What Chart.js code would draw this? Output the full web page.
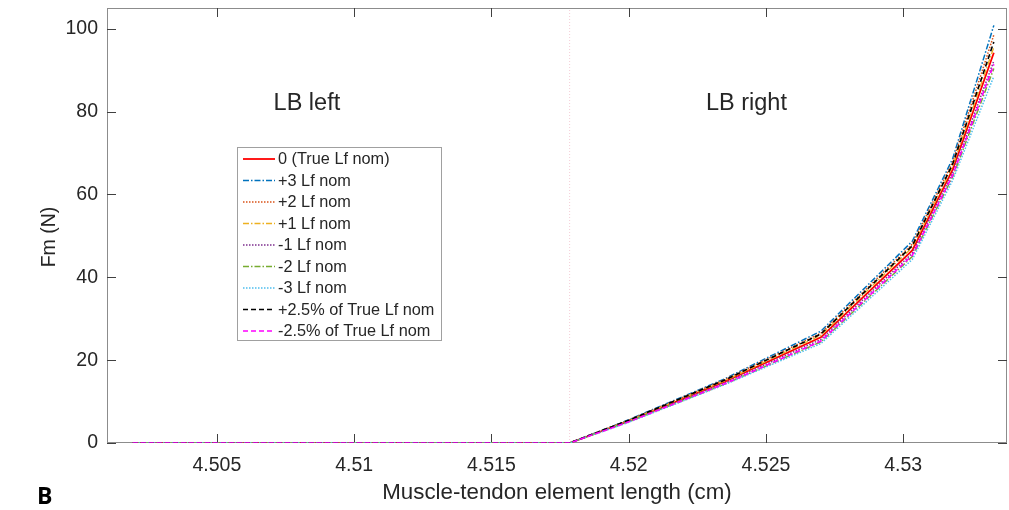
<!DOCTYPE html>
<html>
<head>
<meta charset="utf-8">
<script src="https://cdn.jsdelivr.net/npm/chart.js@4.4.1/dist/chart.umd.min.js"></script>
<style>
    html, body { margin: 0; padding: 0; background: #fff; }
    #wrap { width: 1009px; height: 510px; position: relative; }
</style>
</head>
<body>
<div id="wrap"><canvas id="fmChart" width="1009" height="510"></canvas></div>
<script>
// Fm vs muscle-tendon length, LB model
const xValues = [4.50194, 4.51785, 4.52, 4.5235, 4.527, 4.53033, 4.5318, 4.5333]

const fmTrue   = [0, 0, 5.3, 14.8, 25.5, 46.5, 66.0, 94.2]
const fmPlus3  = [0, 0, 5.6, 15.5, 27.0, 48.7, 68.6, 100.8]
const fmPlus2  = [0, 0, 5.5, 15.3, 26.5, 48.0, 67.8, 98.5]
const fmPlus1  = [0, 0, 5.4, 15.0, 26.0, 47.2, 66.8, 95.5]
const fmMinus1 = [0, 0, 5.2, 14.5, 25.0, 45.8, 65.2, 92.2]
const fmMinus2 = [0, 0, 5.1, 14.2, 24.4, 45.0, 64.2, 90.4]
const fmMinus3 = [0, 0, 5.0, 14.1, 24.0, 44.3, 63.4, 88.5]
const fmPlusPct  = [0, 0, 5.5, 15.2, 26.3, 47.6, 67.3, 96.8]
const fmMinusPct = [0, 0, 5.1, 14.3, 24.6, 45.3, 64.6, 91.4]

const seriesLabels = ["0 (True Lf nom)", "+3 Lf nom", "+2 Lf nom", "+1 Lf nom", "-1 Lf nom",
    "-2 Lf nom", "-3 Lf nom", "+2.5% of True Lf nom", "-2.5% of True Lf nom"]

const xTicks = [4.505, 4.51, 4.515, 4.52, 4.525, 4.53]
const yTicks = [0, 20, 40, 60, 80, 100]

const lbBoundary = 4.51785
const regionLabels = [
    { text: "LB left", x: 4.50828, y: 82 },
    { text: "LB right", x: 4.52429, y: 82 },
]

const FONT = "'Liberation Sans', Arial, sans-serif"
const TXT = "#262626"

const styles = [
    { color: "#ff0000", dash: [], width: 1.8 },
    { color: "#0072bd", dash: [6, 2, 1.5, 2], width: 1.5 },
    { color: "#d95319", dash: [1.5, 1.5], width: 1.5 },
    { color: "#edb120", dash: [6, 2, 1.5, 2], width: 1.3 },
    { color: "#7e2f8e", dash: [1.5, 1.5], width: 1.5 },
    { color: "#77ac30", dash: [6, 2, 1.5, 2], width: 1.5 },
    { color: "#4dbeee", dash: [1.5, 1.5], width: 1.5 },
    { color: "#000000", dash: [5, 3], width: 1.6 },
    { color: "#ff00ff", dash: [5, 3], width: 1.6 },
]

const seriesValues = [fmTrue, fmPlus3, fmPlus2, fmPlus1, fmMinus1, fmMinus2, fmMinus3, fmPlusPct, fmMinusPct]

const datasets = seriesValues.map((vals, i) => ({
    label: seriesLabels[i],
    data: xValues.map((x, j) => ({ x: x, y: vals[j] })),
    borderColor: styles[i].color,
    borderDash: styles[i].dash,
    borderWidth: styles[i].width,
    pointRadius: 0,
    tension: 0,
    fill: false,
    order: 20 - i,
}))

// dotted boundary line between LB left / right
datasets.push({
    label: "boundary",
    data: [{ x: lbBoundary, y: 0 }, { x: lbBoundary, y: 105 }],
    borderColor: "rgba(235, 170, 185, 0.6)",
    borderDash: [1, 2],
    borderWidth: 1,
    pointRadius: 0,
    order: 30,
})

const figurePlugin = {
    id: "figurePlugin",
    beforeDatasetsDraw(chart) {
        const ctx = chart.ctx
        const { left, right, top, bottom } = chart.chartArea
        const xs = chart.scales.x
        const ys = chart.scales.y
        ctx.save()

        // box
        ctx.strokeStyle = "#8c8c8c"
        ctx.lineWidth = 1
        ctx.strokeRect(left + 0.5, top + 0.5, right - left - 1, bottom - top - 1)

        // inward ticks
        ctx.strokeStyle = "#404040"
        ctx.beginPath()
        xTicks.forEach(v => {
            const px = Math.round(xs.getPixelForValue(v)) + 0.5
            ctx.moveTo(px, bottom); ctx.lineTo(px, bottom - 9)
            ctx.moveTo(px, top); ctx.lineTo(px, top + 9)
        })
        yTicks.forEach(v => {
            const py = Math.round(ys.getPixelForValue(v)) + 0.5
            ctx.moveTo(left, py); ctx.lineTo(left + 9, py)
            ctx.moveTo(right, py); ctx.lineTo(right - 9, py)
        })
        ctx.stroke()
        ctx.restore()
    },
    afterDatasetsDraw(chart) {
        const ctx = chart.ctx
        const xs = chart.scales.x
        const ys = chart.scales.y
        ctx.save()

        // region labels
        ctx.fillStyle = TXT
        ctx.font = "23.5px " + FONT
        ctx.textAlign = "center"
        ctx.textBaseline = "middle"
        regionLabels.forEach(l => {
            ctx.fillText(l.text, xs.getPixelForValue(l.x), ys.getPixelForValue(l.y))
        })

        // y axis title
        ctx.save()
        ctx.translate(50, 237)
        ctx.rotate(-Math.PI / 2)
        ctx.font = "19.5px " + FONT
        ctx.fillText("Fm (N)", 0, 0)
        ctx.restore()

        // legend
        const lx = 237, ly = 147, lw = 204, lh = 193
        ctx.fillStyle = "#fff"
        ctx.fillRect(lx, ly, lw, lh)
        ctx.strokeStyle = "#a0a0a0"
        ctx.lineWidth = 1
        ctx.strokeRect(lx + 0.5, ly + 0.5, lw, lh)
        ctx.font = "16.3px " + FONT
        ctx.textAlign = "left"
        seriesLabels.forEach((lab, i) => {
            const cy = 159 + i * 21.5
            ctx.save()
            ctx.strokeStyle = styles[i].color
            ctx.lineWidth = styles[i].width
            ctx.setLineDash(styles[i].dash)
            ctx.beginPath()
            ctx.moveTo(243, cy); ctx.lineTo(275, cy)
            ctx.stroke()
            ctx.restore()
            ctx.fillStyle = TXT
            ctx.fillText(lab, 278, cy + 1)
        })

        // panel letter
        ctx.fillStyle = "#000"
        ctx.font = "bold 23px 'Open Sans', 'DejaVu Sans', sans-serif"
        ctx.textAlign = "left"
        ctx.fillText("B", 37, 497)
        ctx.restore()
    }
}

new Chart(document.getElementById("fmChart").getContext("2d"), {
    type: "line",
    data: { datasets: datasets },
    plugins: [figurePlugin],
    options: {
        responsive: false,
        animation: false,
        devicePixelRatio: 1,
        layout: { padding: { top: 8, right: 2, left: 0, bottom: 0 } },
        plugins: {
            legend: { display: false },
            tooltip: { enabled: false },
        },
        scales: {
            x: {
                type: "linear",
                min: 4.501,
                max: 4.53378,
                afterFit: (scale) => {
                    scale.height = 67
                    scale.paddingLeft = 0
                    scale.paddingRight = 0
                },
                afterBuildTicks: (scale) => { scale.ticks = xTicks.map(v => ({ value: v })) },
                grid: { display: false, drawTicks: false },
                border: { display: false },
                ticks: {
                    padding: 11,
                    color: TXT,
                    font: { family: FONT, size: 19.5 },
                    callback: (v) => String(v),
                },
                title: {
                    display: true,
                    text: "Muscle-tendon element length (cm)",
                    color: TXT,
                    font: { family: FONT, size: 22.3 },
                    padding: { top: 0, bottom: 4 },
                },
            },
            y: {
                min: 0,
                max: 105,
                afterFit: (scale) => {
                    scale.width = 107
                    scale.paddingTop = 0
                    scale.paddingBottom = 0
                },
                afterBuildTicks: (scale) => { scale.ticks = yTicks.map(v => ({ value: v })) },
                grid: { display: false, drawTicks: false },
                border: { display: false },
                ticks: {
                    padding: 9,
                    color: TXT,
                    font: { family: FONT, size: 19.5 },
                },
                title: { display: false },
            },
        },
    },
})
</script>
</body>
</html>
